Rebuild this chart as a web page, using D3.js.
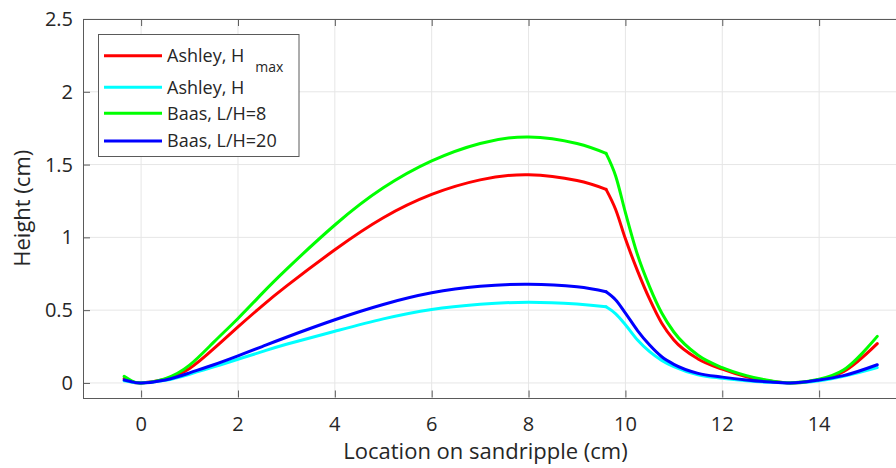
<!DOCTYPE html>
<html>
<head>
<meta charset="utf-8">
<script src="https://cdn.jsdelivr.net/npm/d3@7"></script>
<style>
  html, body { margin: 0; padding: 0; background: #fff; overflow: hidden; }
  svg { display: block; font-family: "Open Sans", sans-serif; }
</style>
</head>
<body>
<div id="chart"></div>
<script>
// sample locations along the ripple (cm)
const location_cm = [-0.35, -0.2, 0, 0.5, 1, 1.5, 2, 2.5, 3, 4, 5, 6, 7, 8, 9, 9.6, 9.8, 10, 10.25, 10.5, 10.75, 11, 11.5, 12, 12.5, 13, 13.4, 14, 14.5, 15.2];
const crestEnd = 9.6; // where the lee side drops off

const ashleyHmax = [0.03, 0.01, 0, 0.025, 0.099, 0.235, 0.385, 0.53, 0.665, 0.915, 1.135, 1.295, 1.395, 1.43, 1.39, 1.33, 1.19, 0.99, 0.77, 0.575, 0.41, 0.295, 0.165, 0.095, 0.043, 0.012, 0, 0.02, 0.077, 0.27];
const ashleyH    = [0.015, 0.006, 0, 0.018, 0.06, 0.11, 0.163, 0.215, 0.266, 0.355, 0.44, 0.505, 0.54, 0.555, 0.542, 0.523, 0.475, 0.4, 0.295, 0.215, 0.155, 0.112, 0.056, 0.032, 0.015, 0.004, 0, 0.015, 0.045, 0.105];
const baas8      = [0.045, 0.015, 0, 0.03, 0.122, 0.28, 0.443, 0.615, 0.78, 1.085, 1.34, 1.525, 1.645, 1.69, 1.645, 1.577, 1.42, 1.17, 0.88, 0.66, 0.48, 0.35, 0.19, 0.105, 0.05, 0.015, 0, 0.025, 0.089, 0.32];
const baas20     = [0.02, 0.008, 0, 0.02, 0.069, 0.125, 0.186, 0.25, 0.314, 0.434, 0.539, 0.619, 0.664, 0.678, 0.66, 0.626, 0.57, 0.48, 0.36, 0.26, 0.18, 0.128, 0.066, 0.04, 0.02, 0.006, 0, 0.02, 0.05, 0.125];

const seriesNames = ['Ashley, H', 'Ashley, H', 'Baas, L/H=8', 'Baas, L/H=20'];
const seriesColors = ['#ff0000', '#00ffff', '#00ff00', '#0000ff'];
const seriesValues = [ashleyHmax, ashleyH, baas8, baas20];

const xTicks = [0, 2, 4, 6, 8, 10, 12, 14, 16];
const xTickLabels = ['0', '2', '4', '6', '8', '10', '12', '14'];
const yTicks = [0, 0.5, 1, 1.5, 2, 2.5];
const yTickLabels = ['0', '0.5', '1', '1.5', '2', '2.5'];

(function () {
    const width = 896, height = 468;
    const left = 83, right = 916, top = 19, bottom = 397.5;
    const ink = '#262626';

    const svg = d3.select('#chart').append('svg')
        .attr('width', width).attr('height', height)
        .attr('viewBox', `0 0 ${width} ${height}`);

    const x = d3.scaleLinear().domain([-1.2, 16]).range([left, right]);
    const y = d3.scaleLinear().domain([-0.1, 2.5]).range([bottom, top]);

    // grid
    const grid = svg.append('g').attr('class', 'grid');
    grid.selectAll('line.gx').data(xTicks).enter().append('line')
        .attr('x1', d => x(d)).attr('x2', d => x(d))
        .attr('y1', top).attr('y2', bottom)
        .attr('stroke', '#e6e6e6').attr('stroke-width', 1);
    grid.selectAll('line.gy').data(yTicks).enter().append('line')
        .attr('x1', left).attr('x2', right)
        .attr('y1', d => y(d)).attr('y2', d => y(d))
        .attr('stroke', '#e6e6e6').attr('stroke-width', 1);

    // axes, MATLAB style: ticks pointing inward, box on
    svg.append('g').attr('transform', `translate(0,${bottom})`)
        .call(d3.axisTop(x).tickValues(xTicks).tickSize(7).tickFormat(''));
    svg.append('g').attr('transform', `translate(0,${top})`)
        .call(d3.axisBottom(x).tickValues(xTicks).tickSize(7).tickFormat(''));
    svg.append('g').attr('transform', `translate(${left},0)`)
        .call(d3.axisRight(y).tickValues(yTicks).tickSize(7).tickFormat(''));
    svg.append('g').attr('transform', `translate(${right},0)`)
        .call(d3.axisLeft(y).tickValues(yTicks).tickSize(7).tickFormat(''));
    svg.selectAll('.domain, .tick line')
        .attr('stroke', '#5a5a5a').attr('stroke-width', 1);
    svg.selectAll('.domain').attr('shape-rendering', 'crispEdges');

    // tick labels (16 sits past the cropped right edge)
    svg.append('g').selectAll('text').data(xTickLabels).enter().append('text')
        .attr('x', (d, i) => x(xTicks[i])).attr('y', 431)
        .attr('text-anchor', 'middle')
        .attr('font-size', 20).attr('fill', ink)
        .text(d => d);
    svg.append('g').selectAll('text').data(yTickLabels).enter().append('text')
        .attr('x', 73).attr('y', (d, i) => y(yTicks[i]))
        .attr('dy', '0.35em')
        .attr('text-anchor', 'end')
        .attr('font-size', 20).attr('fill', ink)
        .text(d => d);

    // axis labels
    svg.append('text')
        .attr('x', 485.5).attr('y', 459)
        .attr('text-anchor', 'middle')
        .attr('font-size', 22).attr('fill', ink)
        .text('Location on sandripple (cm)');
    svg.append('text')
        .attr('transform', `translate(30,${(top + bottom) / 2}) rotate(-90)`)
        .attr('text-anchor', 'middle')
        .attr('font-size', 22).attr('fill', ink)
        .text('Height (cm)');

    // data lines: smooth stoss side, then the steep lee side from the crest break
    const stoss = d3.line().x(d => x(d[0])).y(d => y(d[1])).curve(d3.curveNatural);
    const lee = d3.line().x(d => x(d[0])).y(d => y(d[1])).curve(d3.curveMonotoneX);

    const series = svg.append('g').selectAll('g')
        .data(seriesValues.map(vals => location_cm.map((l, i) => [l, vals[i]])))
        .enter().append('g')
        .attr('fill', 'none')
        .attr('stroke', (d, i) => seriesColors[i])
        .attr('stroke-width', 3)
        .attr('stroke-linecap', 'round')
        .attr('stroke-linejoin', 'round');
    series.append('path').attr('d', pts => stoss(pts.filter(p => p[0] <= crestEnd)));
    series.append('path').attr('d', pts => lee(pts.filter(p => p[0] >= crestEnd)));

    // legend
    const lg = svg.append('g').attr('class', 'legend');
    lg.append('rect')
        .attr('x', 98.5).attr('y', 34.5).attr('width', 200.5).attr('height', 122)
        .attr('fill', '#fff').attr('stroke', '#5a5a5a').attr('stroke-width', 1);
    const rowY = [55.7, 87.3, 113.3, 141];
    const rows = lg.selectAll('g.row').data(seriesNames).enter().append('g')
        .attr('transform', (d, i) => `translate(0,${rowY[i]})`);
    rows.append('line')
        .attr('x1', 104).attr('x2', 162)
        .attr('stroke', (d, i) => seriesColors[i])
        .attr('stroke-width', 3);
    const labels = rows.append('text')
        .attr('x', 167).attr('dy', '0.35em')
        .attr('font-size', 18).attr('fill', ink)
        .text(d => d);
    labels.filter((d, i) => i === 0).append('tspan')
        .attr('dx', 11).attr('dy', 10)
        .attr('font-size', 14)
        .text('max');
})();
</script>
</body>
</html>
